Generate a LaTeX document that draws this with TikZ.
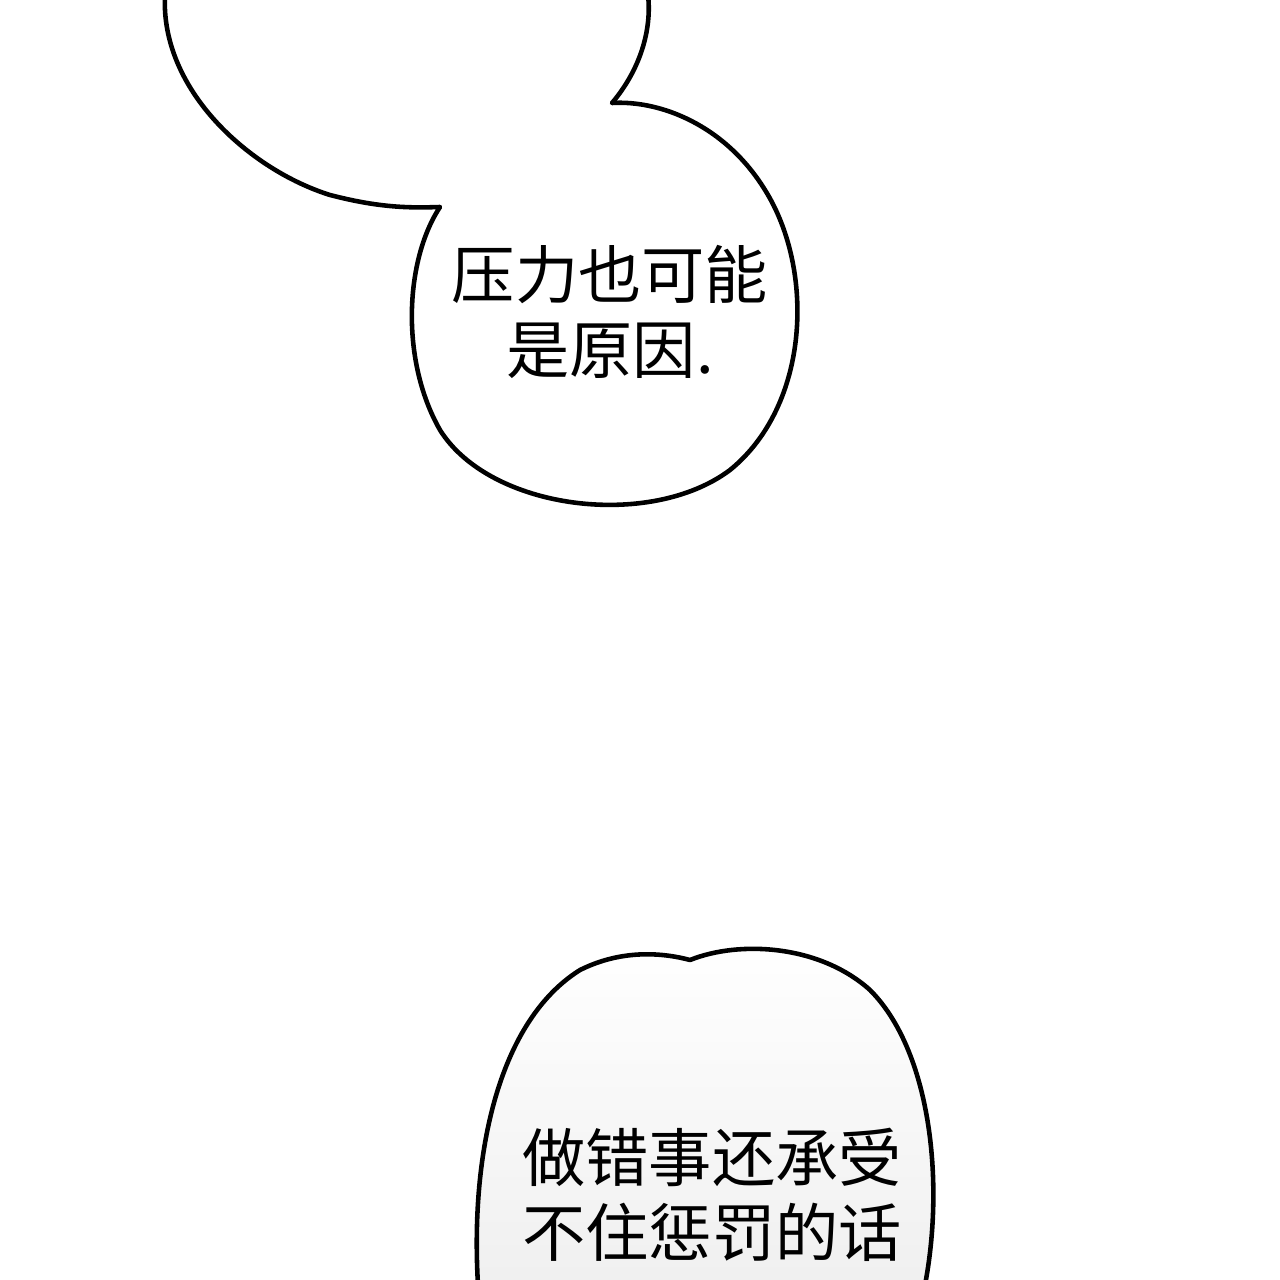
\documentclass[tikz,border=0pt]{standalone}
\usepackage{fontspec}
\newfontfamily\cjk{Noto Sans CJK SC}
\tikzset{
  bubble/.style={draw=black, line width=2.6pt, line join=round},
  speech/.style={font=\cjk\fontsize{36}{43}\selectfont, align=center, inner sep=0pt}
}
\begin{document}
\begin{tikzpicture}[x=0.02cm,y=-0.02cm]
	\useasboundingbox (0,0) rectangle (1280,1280);
	% upper bubble, two lobes
	\draw[bubble, fill=white] (165,-5) .. controls (160,90) and (250,170) .. (330,195)
		.. controls (380,208) and (410,208) .. (440,207)
		.. controls (405,260) and (400,360) .. (440,430)
		.. controls (490,510) and (650,530) .. (730,470)
		.. controls (810,405) and (815,270) .. (765,190)
		.. controls (725,125) and (660,100) .. (612,103)
		.. controls (640,70) and (652,30) .. (648,-5);
	\node[speech] (upper) at (610,312) {压力也可能\\是原因.};

	% lower bubble
	\draw[bubble, top color=white, bottom color=gray!12] (478,1285)
		.. controls (470,1150) and (500,1020) .. (580,970)
		.. controls (620,950) and (660,952) .. (690,960)
		.. controls (740,940) and (820,945) .. (870,990)
		.. controls (930,1050) and (945,1180) .. (925,1285);
	\node[speech] (lower) at (712,1195) {做错事还承受\\不住惩罚的话};
\end{tikzpicture}
\end{document}
